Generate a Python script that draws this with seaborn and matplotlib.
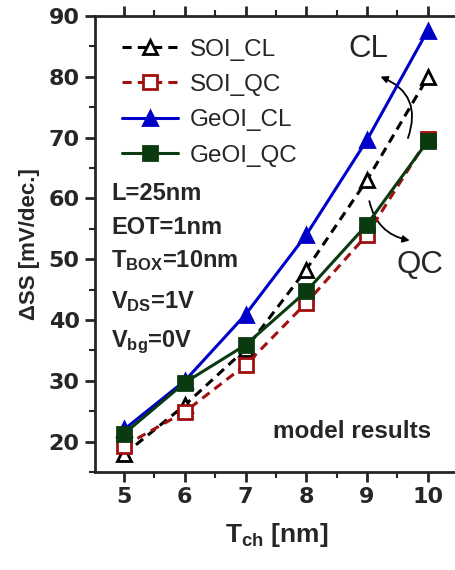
import matplotlib
matplotlib.use("Agg")
import matplotlib.pyplot as plt
import seaborn as sns
import pandas as pd
from matplotlib.patches import FancyArrowPatch
from matplotlib.ticker import MultipleLocator

t_ch = [5, 6, 7, 8, 9, 10]
soi_cl = [17.9, 26.0, 35.2, 48.3, 63.0, 79.9]
soi_qc = [19.3, 24.9, 32.6, 42.8, 54.0, 69.8]
geoi_cl = [22.0, 30.0, 40.9, 54.0, 69.6, 87.6]
geoi_qc = [21.3, 29.7, 35.9, 44.7, 55.7, 69.4]

sns.set_theme(style="ticks")
plt.rcParams['font.family'] = ['Liberation Sans', 'DejaVu Sans']
plt.rcParams['mathtext.fontset'] = 'custom'
plt.rcParams['mathtext.rm'] = 'Liberation Sans:bold'
plt.rcParams['mathtext.bf'] = 'Liberation Sans:bold'
plt.rcParams['mathtext.it'] = 'Liberation Sans:bold'

fig = plt.figure(figsize=(4.56, 5.70), dpi=100)
ax = fig.add_axes([95/456, 1-472/570, 363/456, 456/570])

series = [
    ("SOI_CL", soi_cl, "black", "^", "none", (3, 2)),
    ("SOI_QC", soi_qc, "#a01010", "s", "none", (3, 2)),
    ("GeOI_CL", geoi_cl, "#0000c8", "^", "#0000c8", ""),
    ("GeOI_QC", geoi_qc, "#0a3a10", "s", "#0a3a10", ""),
]
for name, vals, col, mk, fc, dash in series:
    df = pd.DataFrame({"x": t_ch, "y": vals})
    kw = {}
    if dash:
        kw["dashes"] = dash
    sns.lineplot(data=df, x="x", y="y", ax=ax, color=col, marker=mk,
                 markersize=9.5, markerfacecolor=(fc if fc != "none" else "white"),
                 markeredgecolor=col, markeredgewidth=2.0, linewidth=2.2,
                 label=name, **kw)

ax.set_xlim(4.52, 10.5)
ax.set_ylim(15, 90)
ax.xaxis.set_major_locator(MultipleLocator(1))
ax.xaxis.set_minor_locator(MultipleLocator(0.5))
ax.yaxis.set_major_locator(MultipleLocator(10))
ax.yaxis.set_minor_locator(MultipleLocator(5))
ax.tick_params(axis='both', which='major', direction='out', length=7, width=2, pad=4)
ax.tick_params(axis='both', which='minor', direction='out', length=4, width=1.5)
ax.tick_params(axis='x', top=True, which='both', labeltop=False)
for lab in ax.get_xticklabels() + ax.get_yticklabels():
    lab.set_fontfamily('DejaVu Sans')
    lab.set_fontweight('bold')
    lab.set_fontsize(16)
for s in ax.spines.values():
    s.set_linewidth(2)
ax.spines['right'].set_visible(False)

ax.set_xlabel(r"T$_{\rm ch}$ [nm]", fontsize=19, fontweight='bold', labelpad=10)
ax.set_ylabel("ΔSS [mV/dec.]", fontsize=16, fontweight='bold', labelpad=6)

leg = ax.legend(loc='upper left', bbox_to_anchor=(0.047, 0.972), frameon=False,
                handlelength=2.3, handletextpad=0.5, labelspacing=0.55,
                borderaxespad=0.0, prop={'size': 17.5})

info = ["L=25nm", "EOT=1nm", r"T$_{\rm BOX}$=10nm", r"V$_{\rm DS}$=1V", r"V$_{\rm bg}$=0V"]
ys = [60.8, 55.2, 49.8, 43.0, 36.4]
for txt, yy in zip(info, ys):
    ax.text(4.79, yy, txt, fontsize=17, fontweight='bold', va='center', ha='left')

ax.text(10.05, 21.6, "model results", fontsize=17.5, fontweight='bold', ha='right', va='center')
ax.text(9.02, 84.6, "CL", fontsize=22.5, ha='center', va='center')
ax.text(9.88, 49.0, "QC", fontsize=22.5, ha='center', va='center')

a1 = FancyArrowPatch((9.66, 69.5), (9.18, 80.2), connectionstyle="arc3,rad=0.5",
                     arrowstyle="-|>", mutation_scale=10, lw=1.3, color='black')
a2 = FancyArrowPatch((9.03, 60.0), (9.75, 53.0), connectionstyle="arc3,rad=0.35",
                     arrowstyle="-|>", mutation_scale=10, lw=1.3, color='black')
ax.add_patch(a1)
ax.add_patch(a2)

fig.savefig("out.png", dpi=100)
